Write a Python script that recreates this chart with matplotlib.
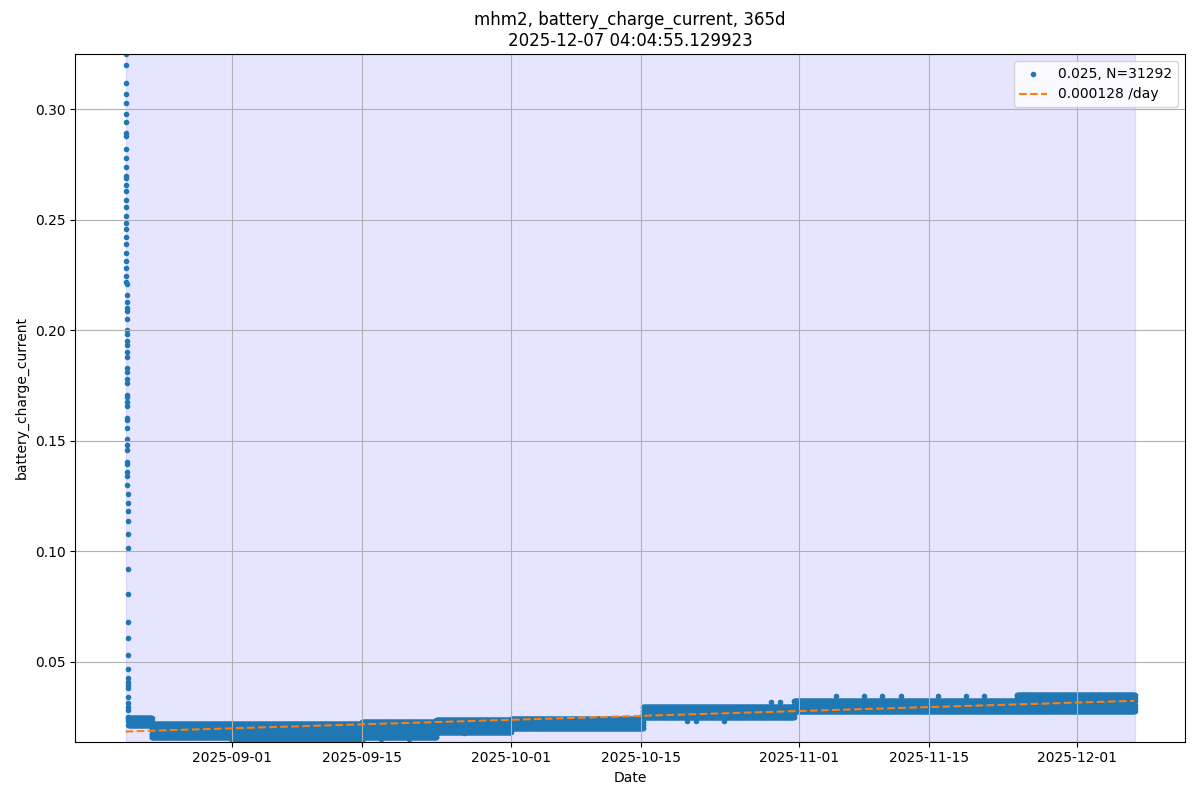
import numpy as np
import pandas as pd
import matplotlib
matplotlib.use("Agg")
import matplotlib.pyplot as plt
import matplotlib.dates as mdates

# first and last sample
t_first = pd.Timestamp("2025-08-20 13:00")
t_last = pd.Timestamp("2025-12-07 04:04:55")

# start-up spike, read top to bottom (one sample every 5 min)
spike_values = [
    0.3249, 0.3199, 0.3118, 0.3068, 0.3027, 0.2977, 0.2941, 0.2891, 0.2878, 0.2819,
    0.2778, 0.2738, 0.2697, 0.2688, 0.2656, 0.2629, 0.2589, 0.2557, 0.2516, 0.2485,
    0.2458, 0.2421, 0.2390, 0.2349, 0.2313, 0.2281, 0.2245, 0.2218, 0.2209, 0.2159,
    0.2127, 0.2100, 0.2087, 0.2051, 0.2001, 0.1983, 0.1951, 0.1933, 0.1901, 0.1879,
    0.1829, 0.1811, 0.1779, 0.1761, 0.1707, 0.1698, 0.1675, 0.1657, 0.1603, 0.1594,
    0.1558, 0.1508, 0.1481, 0.1458, 0.1404, 0.1395, 0.1359, 0.1341, 0.1300, 0.1259,
    0.1219, 0.1183, 0.1137, 0.1079, 0.1015, 0.0920, 0.0807, 0.0681, 0.0608, 0.0532,
    0.0468, 0.0427, 0.0409, 0.0396, 0.0382, 0.0341, 0.0314, 0.0296, 0.0282, 0.0250,
]

# steady part: quantised levels seen in each period
seg_start = ["2025-08-20 20:00", "2025-08-23 08:00", "2025-09-01 00:00", "2025-09-15 00:00",
             "2025-09-23 00:00", "2025-10-01 00:00", "2025-10-15 06:00", "2025-10-31 12:00",
             "2025-11-24 12:00"]
seg_end = seg_start[1:] + ["2025-12-07 04:04"]
seg_levels = [
    [0.0215, 0.0230, 0.0245],
    [0.0160, 0.0175, 0.0190, 0.0205, 0.0220],
    [0.0145, 0.0160, 0.0175, 0.0190, 0.0205, 0.0218],
    [0.0158, 0.0173, 0.0188, 0.0203, 0.0218, 0.0226],
    [0.0182, 0.0197, 0.0212, 0.0227, 0.0236],
    [0.0198, 0.0213, 0.0228, 0.0243],
    [0.0248, 0.0263, 0.0278, 0.0293],
    [0.0275, 0.0290, 0.0305, 0.0320],
    [0.0275, 0.0290, 0.0305, 0.0320, 0.0335, 0.0350],
]

# odd samples outside the band
odd_dates = ["2025-09-03", "2025-09-05", "2025-09-08", "2025-09-10", "2025-09-12",
             "2025-09-14", "2025-09-17", "2025-09-20", "2025-09-26", "2025-10-02",
             "2025-10-09", "2025-10-20", "2025-10-21", "2025-10-24", "2025-10-29",
             "2025-10-30", "2025-11-05", "2025-11-08", "2025-11-10", "2025-11-12",
             "2025-11-16", "2025-11-19", "2025-11-21"]
odd_values = [0.0138, 0.0140, 0.0138, 0.0139, 0.0138,
              0.0140, 0.0150, 0.0152, 0.0176, 0.0238,
              0.0238, 0.0232, 0.0232, 0.0232, 0.0316,
              0.0318, 0.0345, 0.0345, 0.0345, 0.0343,
              0.0345, 0.0345, 0.0343]

trend_start = 0.0184
slope_per_day = 0.000128
legend_point = "0.025, N=31292"
legend_trend = "0.000128 /day"

# build sample lists
xs, ys = [], []
spike_t = pd.date_range(t_first, periods=len(spike_values), freq="5min")
xs += list(spike_t)
ys += spike_values
for s, e, levels in zip(seg_start, seg_end, seg_levels):
    tt = pd.date_range(s, e, freq="1h")
    for lv in levels:
        xs += list(tt)
        ys += [lv] * len(tt)
xs += list(pd.to_datetime(odd_dates))
ys += odd_values

trend_t = [t_first, t_last]
span_days = (t_last - t_first).total_seconds() / 86400
trend_v = [trend_start, trend_start + slope_per_day * span_days]

fig, ax = plt.subplots(figsize=(12, 8), dpi=100)
ax.axvspan(t_first, t_last, color="blue", alpha=0.1)
ax.scatter(xs, ys, marker=".", color="tab:blue", label=legend_point)
ax.plot(trend_t, trend_v, "--", color="tab:orange", label=legend_trend)

ax.set_ylim(min(ys), max(ys))
ax.xaxis.set_major_locator(mdates.MonthLocator(bymonthday=[1, 15]))
ax.xaxis.set_major_formatter(mdates.DateFormatter("%Y-%m-%d"))
ax.grid(True)
ax.legend(loc="upper right")
ax.set_title("mhm2, battery_charge_current, 365d\n2025-12-07 04:04:55.129923")
ax.set_xlabel("Date")
ax.set_ylabel("battery_charge_current")
fig.tight_layout()
fig.subplots_adjust(top=0.9325)
fig.savefig("out.png")
